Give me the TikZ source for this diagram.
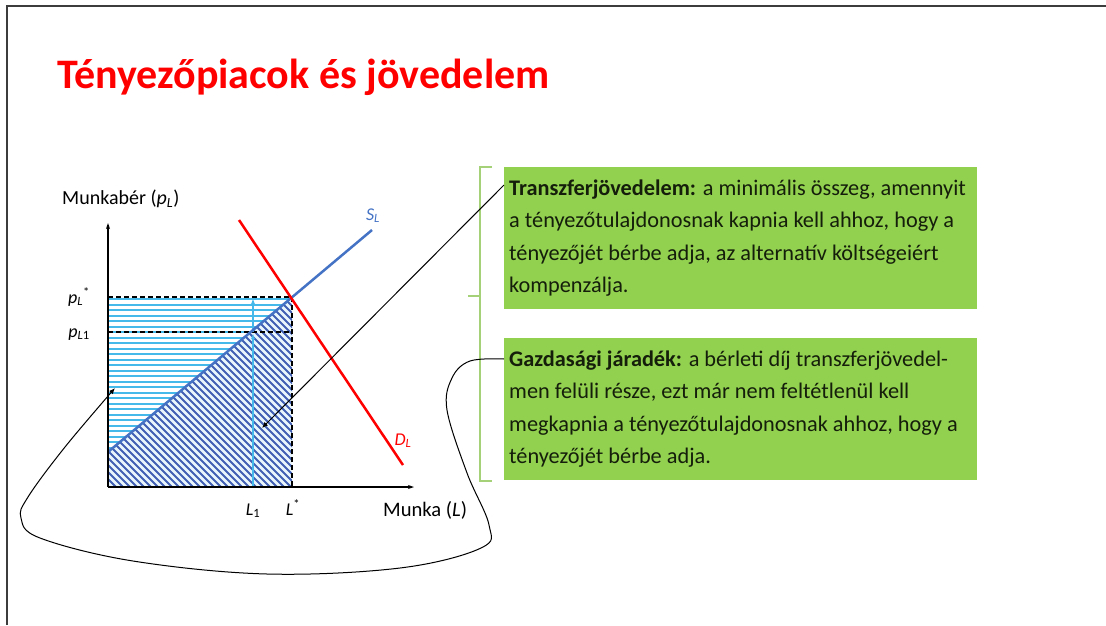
\documentclass[tikz,border=0pt]{standalone}
\usepackage{fontspec}
\setmainfont{Carlito}
\usetikzlibrary{arrows.meta}
\definecolor{boxgreen}{RGB}{146,208,80}
\definecolor{brgreen}{RGB}{165,210,120}
\definecolor{hatchlight}{RGB}{70,185,235}
\definecolor{hatchdark}{RGB}{65,95,180}
\definecolor{supply}{RGB}{68,114,196}
\definecolor{titlered}{RGB}{255,0,0}
\definecolor{framegray}{RGB}{60,60,60}
\definecolor{boxtext}{RGB}{20,30,10}
\newcommand{\ip}{\textit{p}}
\begin{document}
\begin{tikzpicture}[x=1pt,y=-1pt,
  axisline/.style={black, line width=1.3pt, -{Stealth[length=6pt,width=4pt]}},
  dashline/.style={black, line width=1.3pt, dash pattern=on 5pt off 3pt},
  lbl/.style={font=\fontsize{18}{20}\selectfont, inner sep=0pt},
  infobox/.style={fill=boxgreen, anchor=north west, minimum width=473pt, minimum height=142pt,
    text width=463pt, inner xsep=5pt, inner ysep=0pt, align=flush left,
    font=\fontsize{22.3}{32.5}\selectfont, text=boxtext},
  conn/.style={black, line width=1pt, -{Latex[length=6pt,width=5pt]}},
  bluearrow/.style={hatchlight, line width=1.2pt, -{Latex[length=6pt,width=4pt]}}
]
\useasboundingbox (0,0) rectangle (1106,625);
% frame
\draw[framegray, line width=2pt] (7,625) -- (7,6) -- (1106,6);
% title
\node[anchor=base west, font=\fontsize{42}{50}\selectfont\bfseries, text=titlered, inner sep=0pt] (title) at (57,88) {Tényezőpiacok és jövedelem};

% hatching
\begin{scope}
\clip (108,297) -- (292,297) -- (108,452) -- cycle;
\foreach \yy in {299,304.5,...,455} \draw[hatchlight, line width=2pt] (100,\yy) -- (300,\yy);
\end{scope}
\begin{scope}
\clip (108,452) -- (292,297) -- (292,487) -- (108,487) -- cycle;
\fill[hatchlight!12] (100,290) rectangle (300,490);
\foreach \kk in {0,7,...,392} \draw[hatchdark, line width=2pt] (100,100+\kk) -- (300,300+\kk);
\end{scope}

% dashed guides
\draw[dashline] (108,297) -- (292,297) -- (292,487);
\draw[dashline] (108,332) -- (292,332);

% blue arrows at L1
\draw[bluearrow] (253,487) -- (253,333);
\draw[bluearrow] (253,332) -- (253,298);

% curves
\draw[supply, line width=2.5pt] (108,452) -- (372,230);
\draw[red, line width=2.5pt] (239,220) -- (403,465);

% axes
\coordinate (O) at (108,487);
\coordinate (ytop) at (108,223);
\coordinate (xend) at (414,487);
\draw[axisline] (O) -- (ytop);
\draw[axisline] (O) -- (xend);

% labels
\node[anchor=base west, inner sep=0pt, font=\fontsize{20}{22}\selectfont] (ylab) at (62,204) {Munkabér (\ip\textsubscript{\itshape L})};
\node[anchor=base west, inner sep=0pt, font=\fontsize{20.6}{22}\selectfont] (xlab) at (383,516) {Munka (\textit{L})};
\node[lbl, anchor=base] (pstar) at (79,303) {\ip\textsubscript{\itshape L}\textsuperscript{*}};
\node[lbl, anchor=base] (p1) at (79,337) {\ip\textsubscript{\itshape L\upshape 1}};
\node[lbl, anchor=base] (l1) at (253,515) {\textit{L}\textsubscript{1}};
\node[lbl, anchor=base] (lstar) at (293,515) {\textit{L}\textsuperscript{*}};
\node[lbl, anchor=base, text=supply] (sl) at (373,220) {\textit{S}\textsubscript{\itshape L}};
\node[lbl, anchor=base, text=red] (dl) at (403,445) {\textit{D}\textsubscript{\itshape L}};

% bracket
\draw[brgreen, line width=1.5pt] (492,167) -- (480,167) -- (480,481) -- (492,481);
\draw[brgreen, line width=1.5pt] (480,296) -- (468,296);

% boxes
\node[infobox] (box1) at (504,167) {\textbf{Transzferjövedelem:} a minimális összeg, amennyit\\
a tényezőtulajdonosnak kapnia kell ahhoz, hogy a\\
tényezőjét bérbe adja, az alternatív költségeiért\\
kompenzálja.};
\node[infobox] (box2) at (504,338) {\textbf{Gazdasági járadék:} a bérleti díj transzferjövedel-\\
men felüli része, ezt már nem feltétlenül kell\\
megkapnia a tényezőtulajdonosnak ahhoz, hogy a\\
tényezőjét bérbe adja.};

% connectors
\coordinate (t1) at (262,428);
\coordinate (t2) at (115,388);
\coordinate (s1) at ([yshift=-18pt]box1.north west);
\coordinate (s2) at ([yshift=-21pt]box2.north west);
\draw[conn] (s1) -- (t1);
\draw[conn] plot[smooth, tension=0.6] coordinates {(s2) (470,361) (452,378) (447,410) (467,473) (489,525) (481,548) (400,568) (267,574) (133,561) (40,538) (21,518) (28,497) (65,447) (t2)};
\end{tikzpicture}
\end{document}
